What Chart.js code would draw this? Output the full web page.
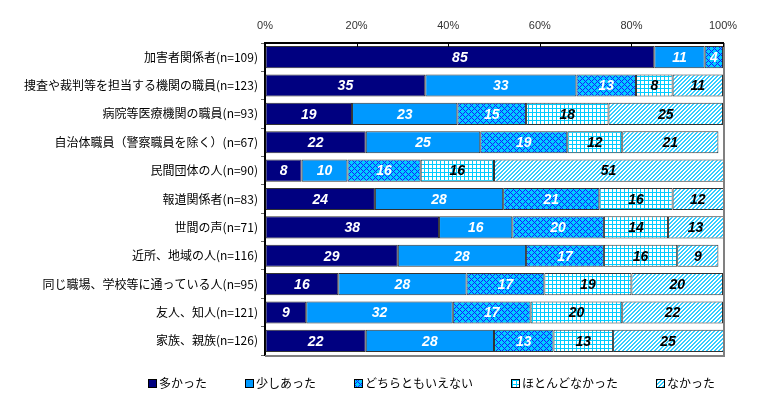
<!DOCTYPE html>
<html>
<head>
<meta charset="utf-8">
<script src="https://cdn.jsdelivr.net/npm/chart.js@4"></script>
<style>
  html, body { margin: 0; padding: 0; background: #fff; }
  canvas { display: block; }
</style>
</head>
<body>
<canvas id="chart" width="762" height="416"></canvas>
<script>
// Categories (top to bottom)
const categories = [
  '加害者関係者(n=109)',
  '捜査や裁判等を担当する機関の職員(n=123)',
  '病院等医療機関の職員(n=93)',
  '自治体職員（警察職員を除く）(n=67)',
  '民間団体の人(n=90)',
  '報道関係者(n=83)',
  '世間の声(n=71)',
  '近所、地域の人(n=116)',
  '同じ職場、学校等に通っている人(n=95)',
  '友人、知人(n=121)',
  '家族、親族(n=126)'
];

const seriesNames = ['多かった', '少しあった', 'どちらともいえない', 'ほとんどなかった', 'なかった'];

// Values in % per series
const manyValues    = [85, 35, 19, 22,  8, 24, 38, 29, 16,  9, 22];
const someValues    = [11, 33, 23, 25, 10, 28, 16, 28, 28, 32, 28];
const neitherValues = [ 4, 13, 15, 19, 16, 21, 20, 17, 17, 17, 13];
const hardlyValues  = [ 0,  8, 18, 12, 16, 16, 14, 16, 19, 20, 13];
const noneValues    = [ 0, 11, 25, 21, 51, 12, 13,  9, 20, 22, 25];

const tickValues = [0, 20, 40, 60, 80, 100];

const canvas = document.getElementById('chart');
const ctx = canvas.getContext('2d');

// Small tile patterns like the Excel fills
function makePattern(size, bg, fg, test) {
  const c = document.createElement('canvas');
  c.width = size;
  c.height = size;
  const g = c.getContext('2d');
  g.fillStyle = bg;
  g.fillRect(0, 0, size, size);
  g.fillStyle = fg;
  for (let x = 0; x < size; x++) {
    for (let y = 0; y < size; y++) {
      if (test(x, y)) g.fillRect(x, y, 1, 1);
    }
  }
  return ctx.createPattern(c, 'repeat');
}

const crossPattern = makePattern(6, '#00CCFF', '#1A1AFF', (x, y) => (x + y) % 6 === 0 || (x - y + 6) % 6 === 0);
const gridPattern = makePattern(4, '#FFFFFF', '#00CCFF', (x, y) => x === 0 || y === 0);
const stripePattern = makePattern(4, '#FFFFFF', '#33CCFF', (x, y) => (x + y) % 4 === 0 || (x + y) % 4 === 1);

const fills = ['#000080', '#0099FF', crossPattern, gridPattern, stripePattern];
const seriesValues = [manyValues, someValues, neitherValues, hardlyValues, noneValues];

// Numbers inside each segment
const barLabels = {
  id: 'barLabels',
  afterDatasetsDraw(chart) {
    const c = chart.ctx;
    c.save();
    c.font = 'italic bold 14px "Liberation Sans", Arial, sans-serif';
    c.textAlign = 'center';
    c.textBaseline = 'middle';
    chart.data.datasets.forEach((ds, di) => {
      const meta = chart.getDatasetMeta(di);
      meta.data.forEach((bar, i) => {
        const v = ds.data[i];
        if (!v) return;
        const right = Math.min(bar.x, chart.chartArea.right);
        c.fillStyle = di < 3 ? '#FFFFFF' : '#000000';
        c.fillText(v, (right + bar.base) / 2, bar.y + 1);
      });
    });
    c.restore();
  }
};

// Plot frame and inner ticks on the top axis
const plotFrame = {
  id: 'plotFrame',
  afterDraw(chart) {
    const c = chart.ctx;
    const a = chart.chartArea;
    const xs = chart.scales.x;
    c.save();
    c.strokeStyle = '#808080';
    c.lineWidth = 2;
    c.beginPath();
    c.moveTo(a.right + 1, a.top);
    c.lineTo(a.right + 1, a.bottom + 1);
    c.lineTo(a.left, a.bottom + 1);
    c.stroke();
    c.strokeStyle = '#000';
    c.lineWidth = 1;
    tickValues.forEach(v => {
      const x = Math.round(xs.getPixelForValue(v)) + 0.5;
      c.beginPath();
      c.moveTo(x, a.top);
      c.lineTo(x, a.top + 4);
      c.stroke();
    });
    c.restore();
  }
};

// Legend row under the chart
const bottomLegend = {
  id: 'bottomLegend',
  afterDraw(chart, args, opts) {
    const c = chart.ctx;
    c.save();
    c.font = '12px "Noto Sans CJK JP", sans-serif';
    c.textBaseline = 'middle';
    let x = opts.left;
    chart.data.datasets.forEach(ds => {
      c.fillStyle = ds.backgroundColor;
      c.fillRect(x, opts.y - 4, 9, 9);
      c.strokeStyle = '#000';
      c.lineWidth = 1;
      c.strokeRect(x + 0.5, opts.y - 3.5, 8, 8);
      c.fillStyle = '#000';
      c.fillText(ds.label, x + 11, opts.y);
      x += 11 + c.measureText(ds.label).width + opts.gap;
    });
    c.restore();
  }
};

const chart = new Chart(ctx, {
  type: 'bar',
  data: {
    labels: categories,
    datasets: seriesNames.map((name, i) => ({
      label: name,
      data: seriesValues[i],
      backgroundColor: fills[i],
      borderColor: '#333333',
      borderWidth: 1,
      borderSkipped: false,
      categoryPercentage: 0.78,
      barPercentage: 1,
      clip: 0
    }))
  },
  options: {
    indexAxis: 'y',
    responsive: false,
    animation: false,
    layout: { padding: { left: 0, right: 39, top: 0, bottom: 61 } },
    scales: {
      x: {
        position: 'top',
        stacked: true,
        min: 0,
        max: 100,
        afterBuildTicks: (s) => { s.ticks = tickValues.map(v => ({ value: v })); },
        ticks: {
          callback: (v) => v + '%',
          font: { size: 11, family: '"Liberation Sans", Arial, sans-serif' },
          color: '#333',
          padding: 10,
          maxRotation: 0
        },
        grid: { drawOnChartArea: false, drawTicks: false },
        border: { color: '#000', width: 2 },
        afterFit: (s) => { s.height = 43; }
      },
      y: {
        stacked: true,
        grid: { offset: true, drawOnChartArea: false, tickLength: 4, color: '#666' },
        border: { color: '#000', width: 2 },
        ticks: {
          font: { size: 12, family: '"Noto Sans CJK JP", sans-serif' },
          color: '#000',
          padding: 3
        },
        afterFit: (s) => { s.width = 265; }
      }
    },
    plugins: {
      legend: { display: false },
      tooltip: { enabled: false },
      bottomLegend: { left: 148, y: 383, gap: 38 }
    }
  },
  plugins: [barLabels, plotFrame, bottomLegend]
});
</script>
</body>
</html>
